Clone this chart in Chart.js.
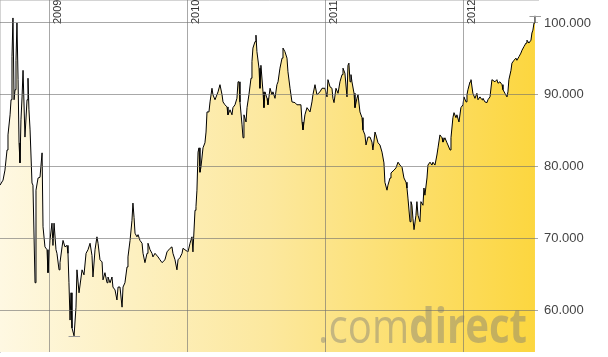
<!DOCTYPE html>
<html>
<head>
<meta charset="utf-8">
<script src="https://cdn.jsdelivr.net/npm/chart.js@4.4.1/dist/chart.umd.min.js"></script>
<style>
  html, body { margin: 0; padding: 0; background: #fff; }
</style>
</head>
<body>
<canvas id="chart" width="608" height="357"></canvas>
<script>
// dates as decimal years, values in thousands
const years = [
  2008.638, 2008.660, 2008.674, 2008.689, 2008.696, 2008.711, 2008.718, 2008.725, 2008.732, 2008.740,
  2008.747, 2008.754, 2008.761, 2008.769, 2008.776, 2008.783, 2008.790, 2008.798, 2008.805, 2008.819,
  2008.834, 2008.841, 2008.848, 2008.856, 2008.870, 2008.877, 2008.892, 2008.899, 2008.914, 2008.928,
  2008.943, 2008.950, 2008.964, 2008.979, 2008.986, 2009.000, 2009.015, 2009.022, 2009.030, 2009.044,
  2009.051, 2009.066, 2009.073, 2009.088, 2009.095, 2009.109, 2009.124, 2009.131, 2009.138, 2009.146,
  2009.153, 2009.160, 2009.175, 2009.189, 2009.196, 2009.211, 2009.233, 2009.247, 2009.262, 2009.276,
  2009.291, 2009.305, 2009.312, 2009.327, 2009.341, 2009.349, 2009.363, 2009.378, 2009.385, 2009.399,
  2009.414, 2009.421, 2009.436, 2009.450, 2009.457, 2009.472, 2009.486, 2009.494, 2009.508, 2009.523,
  2009.530, 2009.544, 2009.559, 2009.566, 2009.581, 2009.595, 2009.602, 2009.610, 2009.617, 2009.631,
  2009.639, 2009.653, 2009.668, 2009.675, 2009.689, 2009.704, 2009.711, 2009.726, 2009.740, 2009.747,
  2009.762, 2009.784, 2009.798, 2009.813, 2009.834, 2009.849, 2009.871, 2009.885, 2009.892, 2009.907,
  2009.921, 2009.929, 2009.943, 2009.958, 2009.965, 2009.979, 2010.001, 2010.016, 2010.030, 2010.037,
  2010.052, 2010.059, 2010.066, 2010.074, 2010.081, 2010.088, 2010.095, 2010.110, 2010.124, 2010.132,
  2010.139, 2010.153, 2010.161, 2010.175, 2010.182, 2010.197, 2010.211, 2010.219, 2010.233, 2010.248,
  2010.255, 2010.269, 2010.284, 2010.291, 2010.306, 2010.320, 2010.327, 2010.342, 2010.356, 2010.364,
  2010.371, 2010.378, 2010.393, 2010.400, 2010.407, 2010.422, 2010.429, 2010.443, 2010.458, 2010.465,
  2010.472, 2010.487, 2010.494, 2010.501, 2010.516, 2010.523, 2010.530, 2010.545, 2010.552, 2010.559,
  2010.574, 2010.581, 2010.596, 2010.610, 2010.617, 2010.632, 2010.646, 2010.654, 2010.668, 2010.683,
  2010.690, 2010.704, 2010.719, 2010.726, 2010.741, 2010.755, 2010.777, 2010.791, 2010.806, 2010.820,
  2010.828, 2010.835, 2010.849, 2010.864, 2010.886, 2010.900, 2010.907, 2010.922, 2010.936, 2010.958,
  2010.973, 2010.994, 2011.009, 2011.016, 2011.031, 2011.045, 2011.052, 2011.060, 2011.074, 2011.089,
  2011.103, 2011.118, 2011.125, 2011.139, 2011.154, 2011.161, 2011.168, 2011.176, 2011.183, 2011.190,
  2011.205, 2011.212, 2011.226, 2011.234, 2011.248, 2011.263, 2011.270, 2011.284, 2011.292, 2011.306,
  2011.321, 2011.335, 2011.342, 2011.357, 2011.364, 2011.379, 2011.393, 2011.408, 2011.422, 2011.429,
  2011.444, 2011.451, 2011.466, 2011.473, 2011.495, 2011.509, 2011.524, 2011.538, 2011.553, 2011.567,
  2011.582, 2011.589, 2011.596, 2011.611, 2011.618, 2011.625, 2011.632, 2011.640, 2011.654, 2011.661,
  2011.669, 2011.683, 2011.690, 2011.705, 2011.712, 2011.719, 2011.734, 2011.741, 2011.756, 2011.770,
  2011.777, 2011.792, 2011.806, 2011.814, 2011.828, 2011.843, 2011.850, 2011.864, 2011.879, 2011.886,
  2011.901, 2011.908, 2011.922, 2011.930, 2011.944, 2011.951, 2011.966, 2011.980, 2011.995, 2012.002,
  2012.017, 2012.024, 2012.031, 2012.046, 2012.053, 2012.067, 2012.082, 2012.096, 2012.104, 2012.118,
  2012.133, 2012.140, 2012.154, 2012.169, 2012.176, 2012.191, 2012.205, 2012.227, 2012.241, 2012.249,
  2012.263, 2012.278, 2012.285, 2012.299, 2012.314, 2012.321, 2012.328, 2012.343, 2012.350, 2012.365,
  2012.379, 2012.386, 2012.401, 2012.415, 2012.423, 2012.437, 2012.452, 2012.459, 2012.473, 2012.488,
  2012.495, 2012.502, 2012.510, 2012.517
];
const values = [
  77.4, 78.1, 79.5, 82.3, 84.4, 87.2, 89.3, 95.3, 100.7, 89.3,
  90.7, 94.8, 100.0, 92.1, 83.3, 80.5, 86.5, 89.7, 93.4, 84.1,
  89.3, 92.3, 87.9, 85.1, 77.7, 77.4, 63.8, 76.7, 78.4, 78.5,
  81.9, 71.6, 68.8, 68.4, 65.2, 69.7, 72.1, 69.0, 72.1, 68.4,
  67.9, 65.6, 66.6, 68.8, 69.7, 68.8, 69.0, 67.9, 63.8, 58.6,
  62.4, 57.5, 56.4, 60.4, 65.6, 62.4, 65.6, 64.9, 67.9, 68.4,
  69.3, 67.6, 64.6, 68.4, 70.2, 69.3, 67.0, 66.7, 64.2, 65.2,
  63.8, 64.6, 63.8, 64.6, 63.2, 62.8, 61.4, 63.2, 63.2, 60.4,
  63.2, 63.8, 66.0, 67.4, 69.7, 72.5, 74.9, 72.9, 70.7, 70.2,
  70.5, 69.7, 69.3, 67.9, 66.6, 67.9, 69.3, 68.4, 67.9, 67.4,
  67.9, 67.4, 67.0, 66.6, 67.0, 68.1, 68.6, 68.8, 67.9, 67.0,
  65.6, 67.0, 67.3, 67.9, 68.6, 68.4, 68.1, 69.3, 70.2, 68.1,
  73.9, 74.4, 76.7, 82.0, 82.6, 79.2, 79.9, 82.6, 83.3, 84.8,
  87.6, 87.6, 89.0, 90.9, 90.0, 89.3, 90.0, 90.4, 91.4, 90.0,
  89.0, 88.6, 88.3, 87.2, 87.9, 87.2, 88.2, 88.6, 89.5, 91.8,
  91.8, 89.0, 85.8, 84.0, 87.2, 86.2, 88.2, 90.0, 92.3, 94.6,
  96.5, 97.4, 98.3, 96.0, 93.7, 90.9, 94.1, 90.4, 88.2, 90.4,
  89.5, 88.6, 90.9, 90.0, 90.4, 89.5, 91.4, 91.8, 93.7, 95.1,
  96.5, 96.0, 95.1, 93.2, 90.9, 89.0, 88.9, 88.6, 88.6, 88.6,
  86.2, 85.1, 87.2, 88.2, 87.6, 89.0, 90.0, 91.4, 90.0, 90.4,
  90.9, 90.9, 89.7, 92.1, 91.1, 90.9, 89.5, 88.9, 90.9, 90.2,
  91.8, 92.8, 93.7, 93.0, 89.7, 94.1, 94.4, 91.8, 92.8, 91.8,
  90.2, 88.2, 89.5, 90.0, 87.6, 86.8, 85.1, 84.4, 83.0, 84.1,
  84.1, 83.4, 82.3, 84.8, 84.4, 83.3, 83.0, 82.0, 80.5, 77.8,
  76.7, 77.4, 78.4, 79.1, 79.5, 79.8, 80.6, 80.2, 79.9, 78.4,
  77.8, 77.0, 75.6, 72.3, 75.1, 74.6, 72.8, 71.2, 73.2, 75.1,
  73.2, 72.3, 75.1, 74.6, 77.0, 76.0, 78.4, 80.2, 80.6, 80.2,
  80.6, 80.2, 81.6, 82.6, 84.4, 84.0, 83.4, 84.0, 83.3, 83.0,
  82.3, 84.0, 86.8, 87.5, 86.8, 87.2, 86.2, 88.2, 88.6, 89.7,
  89.0, 90.0, 90.7, 91.8, 92.1, 90.2, 89.5, 90.2, 89.3, 89.7,
  89.3, 89.5, 89.0, 88.9, 89.3, 89.7, 92.1, 91.8, 92.1, 91.6,
  91.8, 91.4, 90.7, 90.2, 89.7, 90.4, 92.1, 93.4, 94.4, 94.8,
  95.1, 94.8, 95.3, 95.8, 96.2, 96.7, 97.2, 97.6, 97.2, 97.6,
  98.6, 99.0, 100.0, 101.0
];
const yearTicks = [2009, 2010, 2011, 2012];
const yearLabels = ['2009', '2010', '2011', '2012'];
const valueTicks = [60, 70, 80, 90, 100];

const gridColor = 'rgba(110,110,110,0.6)';

const extras = {
  id: 'extras',
  afterDatasetsDraw(chart) {
    const { ctx, scales: { x, y } } = chart;

    // watermark
    ctx.save();
    ctx.fillStyle = 'rgba(120,120,120,0.42)';
    ctx.textBaseline = 'alphabetic';
    const fontA = '48px "Open Sans"';
    const fontB = 'bold 48px "Open Sans"';
    ctx.font = fontA;
    const wA = ctx.measureText('.com').width;
    ctx.font = fontB;
    const wB = ctx.measureText('direct').width;
    const sx = 209 / (wA + wB);
    ctx.translate(318, 343);
    ctx.scale(sx, 1);
    ctx.font = fontA;
    ctx.fillText('.com', 0, 0);
    ctx.font = fontB;
    ctx.fillText('direct', wA, 0);
    ctx.restore();

    // high / low markers
    let hi = 0, lo = 0;
    values.forEach((v, i) => {
      if (v > values[hi]) hi = i;
      if (v < values[lo]) lo = i;
    });
    ctx.save();
    ctx.strokeStyle = '#9a9a9a';
    ctx.lineWidth = 1;
    [hi, lo].forEach(i => {
      const px = x.getPixelForValue(years[i]);
      const py = Math.round(y.getPixelForValue(values[i])) + 0.5;
      ctx.beginPath();
      ctx.moveTo(px - 5.5, py);
      ctx.lineTo(px + 6, py);
      ctx.stroke();
    });
    ctx.restore();

    // year labels, rotated, next to the gridlines
    ctx.save();
    ctx.fillStyle = '#333';
    ctx.font = '11px "Liberation Sans", Arial, sans-serif';
    ctx.textAlign = 'left';
    ctx.textBaseline = 'alphabetic';
    yearTicks.forEach((t, i) => {
      const gx = Math.round(x.getPixelForValue(t));
      ctx.save();
      ctx.translate(gx + 11, 24);
      ctx.rotate(-Math.PI / 2);
      ctx.fillText(yearLabels[i], 0, 0);
      ctx.restore();
    });
    ctx.restore();
  }
};

new Chart(document.getElementById('chart'), {
  type: 'line',
  data: {
    datasets: [{
      data: years.map((t, i) => ({ x: t, y: values[i] })),
      borderColor: '#000',
      borderWidth: 1,
      pointRadius: 0,
      tension: 0,
      fill: 'start',
      backgroundColor: (c) => {
        const area = c.chart.chartArea;
        if (!area) return 'rgba(252,220,100,0.6)';
        const g = c.chart.ctx.createLinearGradient(area.left, 0, area.right, 0);
        g.addColorStop(0, 'rgb(254,248,226)');
        g.addColorStop(0.5, 'rgb(252,232,158)');
        g.addColorStop(1, 'rgb(252,214,62)');
        return g;
      }
    }]
  },
  options: {
    responsive: false,
    animation: false,
    devicePixelRatio: 1,
    layout: { padding: 0 },
    plugins: { legend: { display: false }, tooltip: { enabled: false } },
    scales: {
      x: {
        type: 'linear',
        min: 2008.638,
        max: 2012.539,
        afterBuildTicks: (s) => { s.ticks = yearTicks.map(v => ({ value: v })); },
        afterFit: (s) => { s.height = 5; s.paddingLeft = 0; s.paddingRight = 0; },
        ticks: { display: false },
        grid: { color: gridColor, drawTicks: false, z: 1 },
        border: { display: true, color: '#aaa' }
      },
      y: {
        position: 'right',
        min: 54.15,
        max: 103.2,
        afterBuildTicks: (s) => { s.ticks = valueTicks.map(v => ({ value: v })); },
        afterFit: (s) => { s.width = 70; s.paddingTop = 0; s.paddingBottom = 0; },
        ticks: {
          padding: 6,
          color: '#444',
          font: { family: '"Liberation Sans", Arial, sans-serif', size: 13 },
          callback: (v) => v + '.000'
        },
        grid: { color: gridColor, drawTicks: false, z: 1 },
        border: { display: true, color: '#aaa' }
      }
    }
  },
  plugins: [extras]
});
</script>
</body>
</html>
